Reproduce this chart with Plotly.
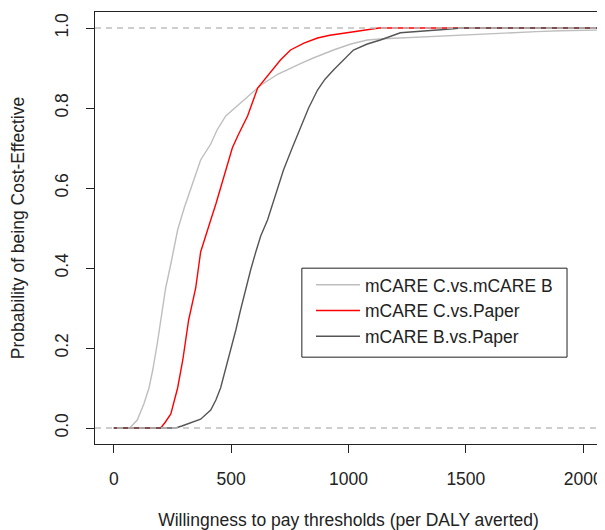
import plotly.graph_objects as go

# Willingness-to-pay thresholds and probabilities
wtp_cb = [0, 68, 100, 128, 150, 166, 185, 200, 221, 243, 272, 300, 328, 350, 370, 413, 440, 477, 515, 553, 590, 626, 700, 753, 800, 850, 936, 1010, 1080, 1150, 1221, 1306, 1420, 1519, 1620, 1719, 1800, 1902, 2080]
prob_cb = [0, 0, 0.02, 0.06, 0.10, 0.145, 0.21, 0.27, 0.35, 0.41, 0.495, 0.55, 0.60, 0.64, 0.67, 0.71, 0.745, 0.78, 0.80, 0.82, 0.84, 0.857, 0.885, 0.90, 0.912, 0.925, 0.945, 0.96, 0.97, 0.973, 0.975, 0.978, 0.981, 0.984, 0.987, 0.99, 0.991, 0.993, 0.995]

wtp_cp = [0, 200, 220, 243, 272, 294, 319, 349, 370, 390, 413, 435, 455, 485, 505, 528, 570, 613, 640, 668, 710, 753, 810, 868, 920, 979, 1030, 1080, 1130, 2080]
prob_cp = [0, 0, 0.015, 0.035, 0.10, 0.17, 0.27, 0.35, 0.44, 0.48, 0.52, 0.56, 0.60, 0.66, 0.70, 0.73, 0.78, 0.85, 0.87, 0.89, 0.92, 0.945, 0.962, 0.975, 0.982, 0.987, 0.992, 0.997, 1.0, 1.0]

wtp_bp = [0, 264, 290, 315, 340, 370, 413, 435, 455, 475, 498, 520, 540, 560, 583, 605, 626, 655, 690, 723, 760, 796, 830, 868, 900, 936, 980, 1021, 1080, 1136, 1221, 1277, 1350, 1421, 1480, 2080]
prob_bp = [0, 0, 0.005, 0.01, 0.015, 0.022, 0.045, 0.07, 0.10, 0.145, 0.19, 0.245, 0.295, 0.345, 0.395, 0.44, 0.48, 0.52, 0.585, 0.645, 0.70, 0.75, 0.80, 0.845, 0.872, 0.895, 0.922, 0.945, 0.96, 0.97, 0.988, 0.99, 0.994, 0.997, 1.0, 1.0]

x_ticks = [0, 500, 1000, 1500, 2000]
y_ticks = [0.0, 0.2, 0.4, 0.6, 0.8, 1.0]
ref_levels = [0, 1]

FONT = "Liberation Sans, Arial, sans-serif"
INK = "#222222"
FS = 17.5

fig = go.Figure()
fig.add_trace(go.Scatter(x=wtp_cb, y=prob_cb, mode="lines", name="mCARE C.vs.mCARE B",
                         line=dict(color="#BEBEBE", width=1.4)))
fig.add_trace(go.Scatter(x=wtp_cp, y=prob_cp, mode="lines", name="mCARE C.vs.Paper",
                         line=dict(color="#FF0000", width=1.4)))
fig.add_trace(go.Scatter(x=wtp_bp, y=prob_bp, mode="lines", name="mCARE B.vs.Paper",
                         line=dict(color="#555555", width=1.4)))
for lv in ref_levels:
    fig.add_trace(go.Scatter(x=[-80, 2080], y=[lv, lv], mode="lines", showlegend=False,
                             hoverinfo="skip",
                             line=dict(color="#BEBEBE", width=1.3, dash="6px,5px")))

# legend frame (drawn as a paper-space rectangle, as in R's legend box)
fig.add_shape(type="rect", xref="paper", yref="paper", x0=0.408, x1=0.931, y0=0.201, y1=0.407,
              line=dict(color=INK, width=1), fillcolor="rgba(0,0,0,0)", layer="above")

# the page body has an 8px margin, so the figure is 8px smaller than the window
fig.update_layout(
    width=597, height=522,
    margin=dict(l=87, r=3, t=4, b=86),
    paper_bgcolor="white", plot_bgcolor="white",
    font=dict(family=FONT, size=FS, color=INK),
    showlegend=True,
    legend=dict(x=0.426, y=0.41, xanchor="left", yanchor="top",
                borderwidth=0, bgcolor="rgba(0,0,0,0)",
                font=dict(size=FS), tracegroupgap=0, itemwidth=44),
)
fig.update_xaxes(range=[-80, 2080], tickvals=x_ticks, ticktext=[str(v) for v in x_ticks],
                 showgrid=False, zeroline=False, showline=True, mirror=True, automargin=False,
                 linecolor=INK, linewidth=1, ticks="outside", ticklen=8,
                 tickcolor=INK, ticklabelstandoff=11, tickfont=dict(size=FS),
                 title=dict(text="Willingness to pay thresholds (per DALY averted)", standoff=29,
                            font=dict(size=FS)))
fig.update_yaxes(range=[-0.04, 1.04], tickvals=y_ticks, ticktext=[f"{v:.1f}" for v in y_ticks],
                 tickangle=-90, showgrid=False, zeroline=False, showline=True, mirror=True,
                 automargin=False,
                 linecolor=INK, linewidth=1, ticks="outside", ticklen=8,
                 tickcolor=INK, ticklabelstandoff=11, tickfont=dict(size=FS),
                 title=dict(text="Probability of being Cost-Effective", standoff=25,
                            font=dict(size=FS)))

fig.write_html("out.html")
